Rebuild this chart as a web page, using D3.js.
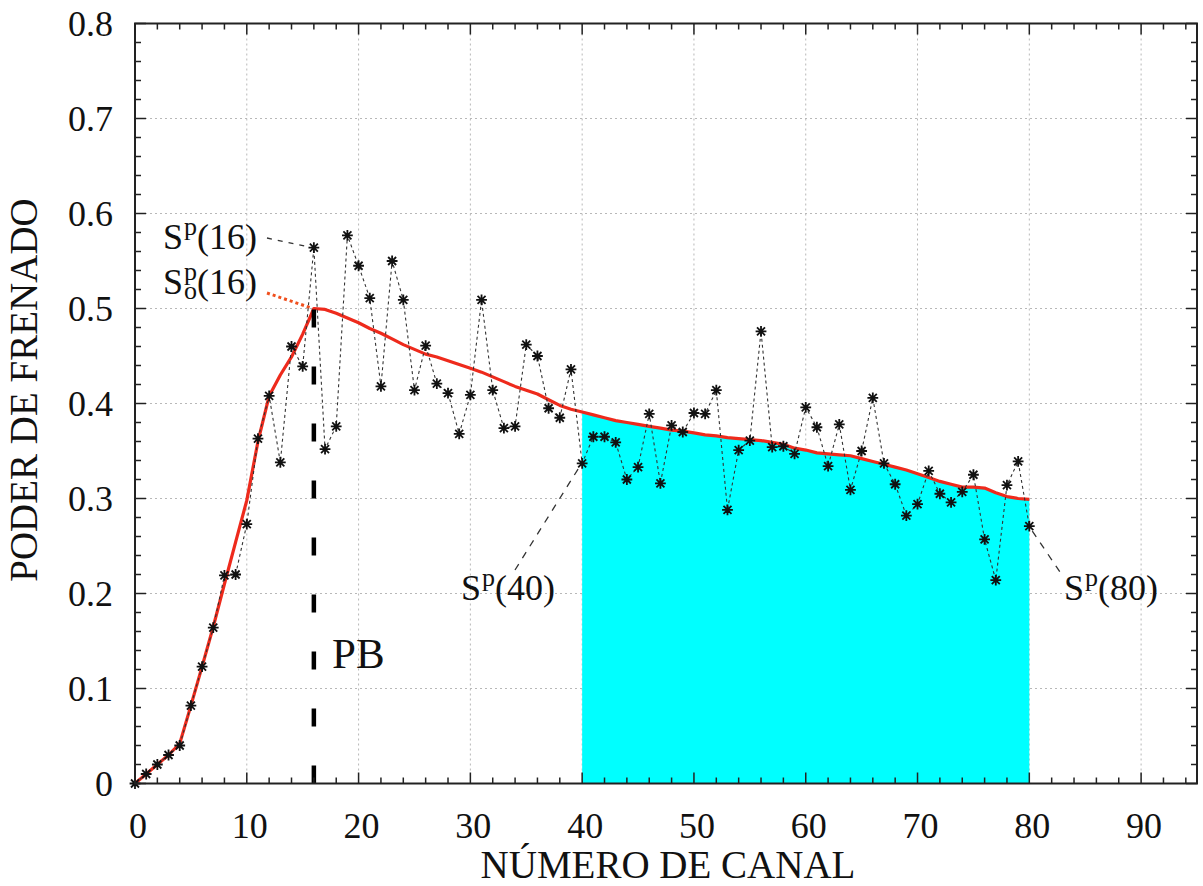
<!DOCTYPE html>
<html><head><meta charset="utf-8">
<script src="https://cdn.jsdelivr.net/npm/d3@7"></script>
<style>
body{margin:0;background:#fff;}
</style></head>
<body><svg id="c" width="1203" height="886"></svg>
<script>
// ---- data ----
const channels = d3.range(0, 81);
const spValues = [0.000,0.010,0.020,0.030,0.040,0.082,0.123,0.164,0.219,0.220,
 0.273,0.363,0.408,0.338,0.460,0.439,0.564,0.352,0.376,0.577,
 0.545,0.511,0.418,0.550,0.509,0.414,0.461,0.421,0.411,0.368,
 0.409,0.509,0.414,0.374,0.376,0.462,0.450,0.395,0.385,0.436,
 0.337,0.365,0.365,0.359,0.320,0.333,0.389,0.316,0.377,0.370,
 0.390,0.389,0.414,0.288,0.351,0.361,0.476,0.354,0.355,0.347,
 0.396,0.375,0.334,0.378,0.309,0.350,0.406,0.337,0.315,0.282,
 0.294,0.329,0.305,0.296,0.307,0.325,0.257,0.214,0.314,0.339,0.271];
const s0Values = [0.000,0.010,0.020,0.030,0.042,0.082,0.123,0.165,0.210,0.254,
 0.298,0.360,0.408,0.430,0.449,0.473,0.500,0.499,0.495,0.490,
 0.485,0.479,0.474,0.468,0.462,0.457,0.452,0.449,0.445,0.441,
 0.437,0.433,0.428,0.423,0.418,0.414,0.410,0.404,0.398,0.394,
 0.391,0.388,0.385,0.382,0.380,0.378,0.376,0.374,0.372,0.371,
 0.369,0.367,0.366,0.364,0.363,0.362,0.361,0.359,0.357,0.353,
 0.351,0.348,0.347,0.346,0.345,0.342,0.339,0.336,0.333,0.330,
 0.326,0.322,0.318,0.315,0.312,0.312,0.311,0.306,0.302,0.300,0.299];
const xTicks = [0,10,20,30,40,50,60,70,80,90];
const yTicks = [0,0.1,0.2,0.3,0.4,0.5,0.6,0.7,0.8];
const fillRange = [40, 80];
const pbChannel = 16;
const xTitle = "NÚMERO DE CANAL";
const yTitle = "PODER DE FRENADO";

const FONT = "'Liberation Serif'";

// ---- scales ----
const svg = d3.select("#c");
const x = d3.scaleLinear().domain([0,95]).range([135,1197]);
const y = d3.scaleLinear().domain([0,0.8]).range([783.5,23.5]);
const L=x.range()[0], R=x.range()[1], T=y.range()[1], B=y.range()[0];

// grid
const grid = svg.append("g").attr("stroke","#b8b8b8").attr("stroke-width",1).attr("stroke-dasharray","2,3");
xTicks.filter(t=>t>0).forEach(t=>grid.append("line").attr("x1",x(t)).attr("x2",x(t)).attr("y1",T).attr("y2",B));
yTicks.filter(t=>t>0&&t<0.8).forEach(t=>grid.append("line").attr("x1",L).attr("x2",R).attr("y1",y(t)).attr("y2",y(t)));

// cyan area
const fillIdx = channels.filter(c=>c>=fillRange[0]&&c<=fillRange[1]);
svg.append("path").datum(fillIdx)
 .attr("d", d3.area().x(c=>x(c)).y0(y(0)).y1(c=>y(s0Values[c])))
 .attr("fill","#00ffff");

// leader lines
const lead = svg.append("g").attr("fill","none");
lead.append("line").attr("x1",267).attr("y1",238).attr("x2",x(16)-6).attr("y2",y(spValues[16])-1)
 .attr("stroke","#333").attr("stroke-width",1.3).attr("stroke-dasharray","5,6");
lead.append("line").attr("x1",267).attr("y1",293).attr("x2",x(16)-4).attr("y2",y(s0Values[16])-1)
 .attr("stroke","#f0501e").attr("stroke-width",3).attr("stroke-dasharray","3,3");
lead.append("line").attr("x1",515).attr("y1",570).attr("x2",x(40)-3).attr("y2",y(spValues[40])+4)
 .attr("stroke","#333").attr("stroke-width",1.3).attr("stroke-dasharray","7,7");
lead.append("line").attr("x1",x(80)+3).attr("y1",y(spValues[80])+5).attr("x2",1062).attr("y2",575)
 .attr("stroke","#333").attr("stroke-width",1.3).attr("stroke-dasharray","7,7");

// red S0 line
svg.append("path").datum(channels)
 .attr("d", d3.line().x(c=>x(c)).y(c=>y(s0Values[c])))
 .attr("fill","none").attr("stroke","#ee2a1c").attr("stroke-width",3.2).attr("stroke-linejoin","round");

// dashed data line
svg.append("path").datum(channels)
 .attr("d", d3.line().x(c=>x(c)).y(c=>y(spValues[c])))
 .attr("fill","none").attr("stroke","#333").attr("stroke-width",1.1).attr("stroke-dasharray","3,3");

// markers
const r=5.4, d=4;
svg.append("g").selectAll("path").data(channels).join("path")
 .attr("transform",c=>`translate(${x(c)},${y(spValues[c])})`)
 .attr("d",`M${-r},0H${r}M0,${-r}V${r}M${-d},${-d}L${d},${d}M${-d},${d}L${d},${-d}`)
 .attr("stroke","#111").attr("stroke-width",1.8).attr("fill","none");

// PB dashed vertical
svg.append("line").attr("x1",x(pbChannel)).attr("x2",x(pbChannel)).attr("y1",y(0)).attr("y2",y(s0Values[pbChannel]))
 .attr("stroke","#000").attr("stroke-width",4.5).attr("stroke-dasharray","18,39");

// frame + ticks
svg.append("rect").attr("x",L).attr("y",T).attr("width",R-L).attr("height",B-T)
 .attr("fill","none").attr("stroke","#222").attr("stroke-width",2);
const tk = svg.append("g").attr("stroke","#222").attr("stroke-width",1.5);
d3.range(0,96,2).forEach(v=>{
  const len = v%10===0?11:6;
  tk.append("line").attr("x1",x(v)).attr("x2",x(v)).attr("y1",B).attr("y2",B-len);
  tk.append("line").attr("x1",x(v)).attr("x2",x(v)).attr("y1",T).attr("y2",T+len);
});
d3.range(0,41).map(i=>i*0.02).forEach((v,i)=>{
  const len = i%5===0?11:6;
  tk.append("line").attr("x1",L).attr("x2",L+len).attr("y1",y(v)).attr("y2",y(v));
  tk.append("line").attr("x1",R).attr("x2",R-len).attr("y1",y(v)).attr("y2",y(v));
});

const txt = (sel)=>sel.append("text").style("font-family",FONT).attr("fill","#111");

// tick labels
xTicks.forEach(t=>txt(svg).attr("x",x(t)+3).attr("y",838).attr("text-anchor","middle").attr("font-size",36).text(t));
yTicks.forEach(t=>txt(svg).attr("x",113).attr("y",y(t)+12).attr("text-anchor","end").attr("font-size",36)
 .text(t===0?"0":t.toFixed(1)));

// titles
txt(svg).attr("x",668).attr("y",878).attr("text-anchor","middle").attr("font-size",39).text(xTitle);
txt(svg).attr("transform","translate(37,390) rotate(-90)").attr("text-anchor","middle").attr("font-size",39).text(yTitle);

// annotation labels
function spLabel(x0, yb, arg, sub){
  const g = svg.append("g");
  const s = txt(g).attr("x",x0).attr("y",yb).attr("font-size",36).text("S");
  const w = s.node().getComputedTextLength();
  const p = txt(g).attr("x",x0+w+1).attr("y",yb-14).attr("font-size",26).text("p");
  let w2 = p.node().getComputedTextLength();
  if(sub){
    const o = txt(g).attr("x",x0+w+1).attr("y",yb+5).attr("font-size",26).text(sub);
    w2 = Math.max(w2, o.node().getComputedTextLength());
  }
  txt(g).attr("x",x0+w+w2+1).attr("y",yb).attr("font-size",36).text("("+arg+")");
}
spLabel(163,249,"16",null);
spLabel(163,294,"16","o");
spLabel(461,600,"40",null);
spLabel(1064,600,"80",null);
txt(svg).attr("x",332).attr("y",668).attr("font-size",43).text("PB");
</script></body></html>
